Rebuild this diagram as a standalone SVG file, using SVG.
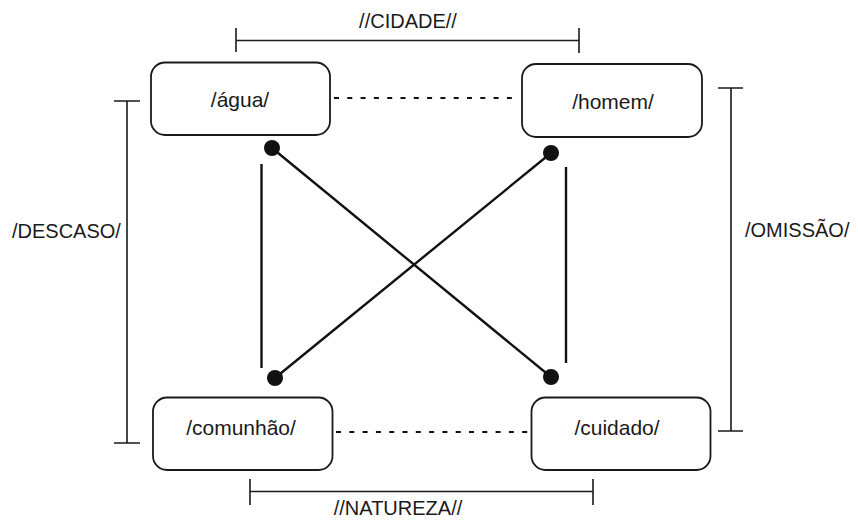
<svg xmlns="http://www.w3.org/2000/svg" width="858" height="520" viewBox="0 0 858 520">
<style>
  .box { fill: #ffffff; stroke: #1a1a1a; stroke-width: 1.8; }
  .lbl { font-family: "Liberation Sans", Arial, sans-serif; font-size: 21px; fill: #1a1a1a; text-anchor: middle; }
  .blbl { font-family: "Liberation Sans", Arial, sans-serif; font-size: 20px; fill: #1a1a1a; }
  .br { stroke: #1a1a1a; stroke-width: 1.6; fill: none; }
  .ln { stroke: #111; stroke-width: 2.4; fill: none; }
  .dot { stroke: #111; stroke-width: 2; fill: none; stroke-dasharray: 5 8.3; }
  .pt { fill: #111; }
</style>
<rect width="858" height="520" fill="#ffffff"/>
<g id="connectors">
  <line class="dot" x1="334" y1="98" x2="520" y2="98"/>
  <line class="dot" x1="336" y1="432" x2="529" y2="432"/>
  <line class="ln" x1="272" y1="148" x2="551" y2="377"/>
  <line class="ln" x1="551" y1="153" x2="275" y2="378"/>
  <line class="ln" x1="261.5" y1="164" x2="261.5" y2="368"/>
  <line class="ln" x1="566" y1="167" x2="566" y2="363"/>
  <circle class="pt" cx="272" cy="148" r="8"/>
  <circle class="pt" cx="551" cy="153" r="8"/>
  <circle class="pt" cx="275" cy="378" r="8"/>
  <circle class="pt" cx="551" cy="377" r="8"/>
</g>
<g id="bracket-cidade">
  <path class="br" d="M236,28 V52 M236,40.5 H579 M579,28 V53"/>
  <text class="blbl" x="408" y="28" text-anchor="middle">//CIDADE//</text>
</g>
<g id="bracket-descaso">
  <path class="br" d="M114,101 H140 M127,101 V443 M114,443 H140"/>
  <text class="blbl" x="12" y="238">/DESCASO/</text>
</g>
<g id="bracket-omissao">
  <path class="br" d="M718,88 H743 M731,88 V431 M718,431 H743"/>
  <text class="blbl" x="745" y="237">/OMISSÃO/</text>
</g>
<g id="bracket-natureza">
  <path class="br" d="M250,479 V505 M250,491.5 H593 M593,479 V505"/>
  <text class="blbl" x="398" y="515" text-anchor="middle">//NATUREZA//</text>
</g>
<g id="node-agua">
  <rect class="box" x="151" y="62.5" width="179" height="72.5" rx="14"/>
  <text class="lbl" x="240" y="107">/água/</text>
</g>
<g id="node-homem">
  <rect class="box" x="522" y="64" width="180" height="73" rx="14"/>
  <text class="lbl" x="613" y="109">/homem/</text>
</g>
<g id="node-comunhao">
  <rect class="box" x="153" y="397.5" width="179.5" height="72.5" rx="14"/>
  <text class="lbl" x="241" y="434.5">/comunhão/</text>
</g>
<g id="node-cuidado">
  <rect class="box" x="531.5" y="397.5" width="179" height="72.5" rx="14"/>
  <text class="lbl" x="617" y="434.5">/cuidado/</text>
</g>
</svg>
